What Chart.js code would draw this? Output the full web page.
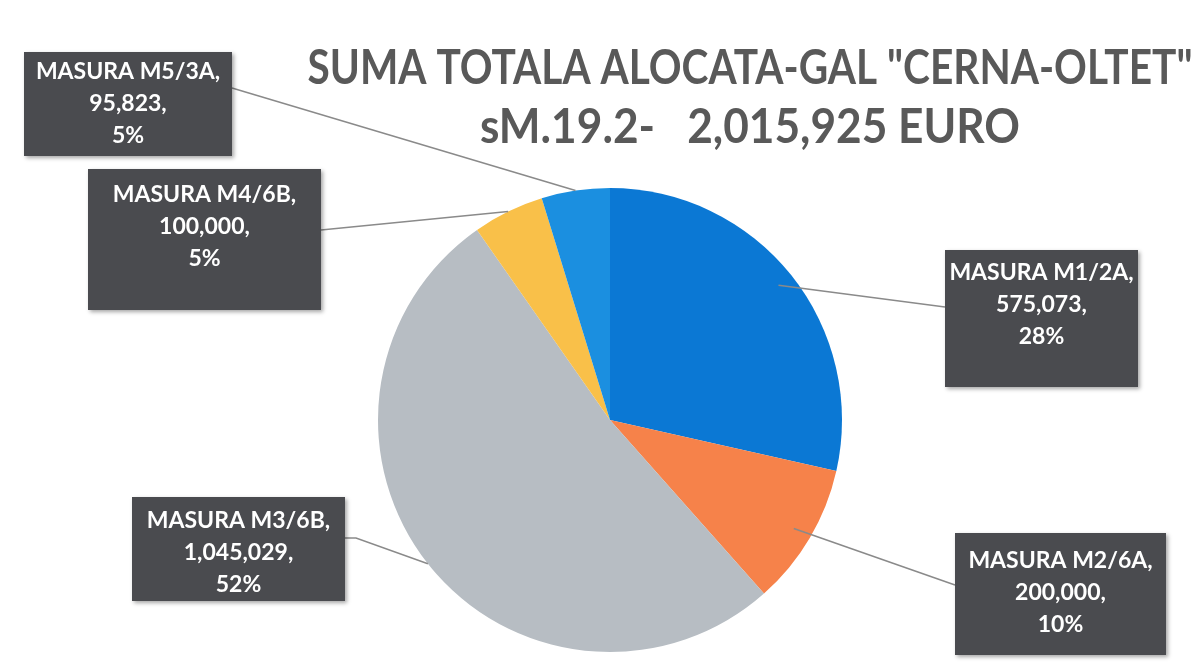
<!DOCTYPE html>
<html>
<head>
<meta charset="utf-8">
<script src="https://cdn.jsdelivr.net/npm/chart.js@4/dist/chart.umd.min.js"></script>
<style>
  html, body { margin: 0; padding: 0; background: #fff; }
  #wrap { width: 1196px; height: 663px; position: relative; }
</style>
</head>
<body>
<div id="wrap"><canvas id="pie"></canvas></div>
<script>
const labels = ['MASURA M1/2A', 'MASURA M2/6A', 'MASURA M3/6B', 'MASURA M4/6B', 'MASURA M5/3A'];
const values = [575073, 200000, 1045029, 100000, 95823];
const percents = ['28%', '10%', '52%', '5%', '5%'];
const titleLines = ['SUMA TOTALA ALOCATA-GAL "CERNA-OLTET"', 'sM.19.2-   2,015,925 EURO'];
const colors = ['#0b78d4', '#f6824a', '#b7bdc3', '#f9c049', '#1b8fe0'];

// label box placement (same order as the data)
const boxes = [
  { x: 945, y: 250, w: 193, h: 137, cy: 305, from: [945, 307], rf: 0.93 },
  { x: 955, y: 533, w: 211, h: 122, cy: 593, from: [955, 585], rf: 0.92 },
  { x: 132, y: 497, w: 213, h: 104, cy: 553, from: [345, 538], elbow: [356, 538], rf: 1 },
  { x: 88, y: 169, w: 233, h: 141, cy: 227, from: [321, 230], rf: 1 },
  { x: 24, y: 52, w: 208, h: 104, cy: 104, from: [232, 88], rf: 1 }
];

const fmt = v => v.toLocaleString('en-US');

const overlay = {
  id: 'overlay',
  afterDatasetsDraw(chart) {
    const ctx = chart.ctx;
    const meta = chart.getDatasetMeta(0);

    // leader lines
    ctx.save();
    ctx.strokeStyle = '#8a8a8a';
    ctx.lineWidth = 1.5;
    meta.data.forEach((arc, i) => {
      const b = boxes[i];
      const mid = (arc.startAngle + arc.endAngle) / 2;
      const r = arc.outerRadius * b.rf;
      const ax = arc.x + Math.cos(mid) * r;
      const ay = arc.y + Math.sin(mid) * r;
      ctx.beginPath();
      ctx.moveTo(b.from[0], b.from[1]);
      if (b.elbow) ctx.lineTo(b.elbow[0], b.elbow[1]);
      ctx.lineTo(ax, ay);
      ctx.stroke();
    });
    ctx.restore();

    // label boxes
    meta.data.forEach((arc, i) => {
      const b = boxes[i];
      ctx.save();
      ctx.shadowColor = 'rgba(0,0,0,0.35)';
      ctx.shadowBlur = 4;
      ctx.shadowOffsetX = 2;
      ctx.shadowOffsetY = 2;
      ctx.fillStyle = '#4a4b4f';
      ctx.fillRect(b.x, b.y, b.w, b.h);
      ctx.restore();

      ctx.save();
      ctx.fillStyle = '#ffffff';
      ctx.font = 'bold 23px Lato';
      ctx.textAlign = 'center';
      ctx.textBaseline = 'middle';
      const lines = [labels[i] + ',', fmt(values[i]) + ',', percents[i]];
      const cx = b.x + b.w / 2;
      lines.forEach((t, k) => ctx.fillText(t, cx, b.cy + (k - 1) * 32));
      ctx.restore();
    });

    // title, squeezed to the widths of the original lines
    ctx.save();
    ctx.fillStyle = '#595959';
    ctx.font = 'bold 47px Lato';
    ctx.textAlign = 'center';
    ctx.textBaseline = 'alphabetic';
    [[885, 84], [540, 143]].forEach(([w, y], k) => {
      const sx = w / ctx.measureText(titleLines[k]).width;
      ctx.save();
      ctx.translate(750, 0);
      ctx.scale(sx, 1);
      ctx.fillText(titleLines[k], 0, y);
      ctx.restore();
    });
    ctx.restore();
  }
};

new Chart(
  document.getElementById('pie'),
  {
    type: 'pie',
    data: {
      labels: labels,
      datasets: [
        {
          data: values,
          backgroundColor: colors,
          borderWidth: 0
        }
      ]
    },
    options: {
      responsive: true,
      maintainAspectRatio: false,
      animation: false,
      layout: {
        padding: { left: 378, right: 354, top: 188, bottom: 11 }
      },
      plugins: {
        legend: { display: false },
        tooltip: { enabled: false },
        title: { display: false }
      }
    },
    plugins: [overlay]
  }
);
</script>
</body>
</html>
